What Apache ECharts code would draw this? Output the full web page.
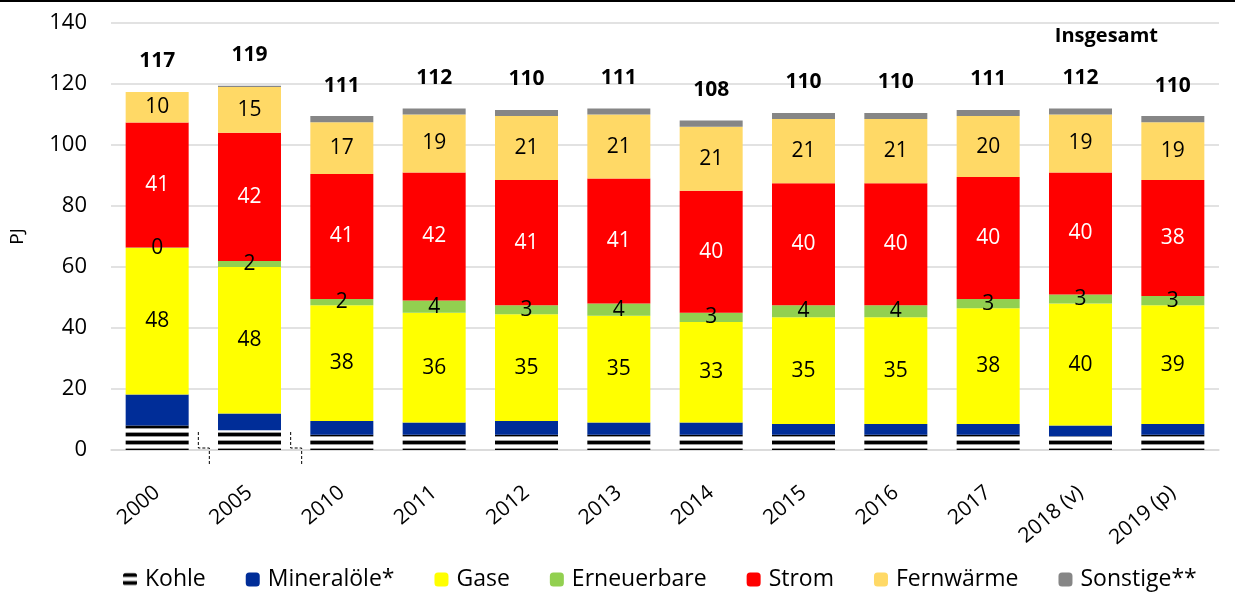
<!DOCTYPE html>
<html>
<head>
<meta charset="utf-8">
<script src="https://cdn.jsdelivr.net/npm/echarts@6/dist/echarts.min.js"></script>
<style>
  html, body { margin: 0; padding: 0; background: #fff; }
  #chart { width: 1235px; height: 595px; }
</style>
</head>
<body>
<div id="chart"></div>
<script>
// Endenergieverbrauch nach Energieträgern, PJ
const years = ['2000', '2005', '2010', '2011', '2012', '2013', '2014', '2015', '2016', '2017', '2018 (v)', '2019 (p)']
const kohle = [8, 6.5, 5, 5, 5, 5, 5, 5, 5, 5, 4.5, 5]
const mineraloele = [10.2, 5.5, 4.5, 4, 4.5, 4, 4, 3.5, 3.5, 3.5, 3.5, 3.5]
const gase = [48, 48, 38, 36, 35, 35, 33, 35, 35, 38, 40, 39]
const erneuerbare = [0.2, 2, 2, 4, 3, 4, 3, 4, 4, 3, 3, 3]
const strom = [41, 42, 41, 42, 41, 41, 40, 40, 40, 40, 40, 38]
const fernwaerme = [10, 15, 17, 19, 21, 21, 21, 21, 21, 20, 19, 19]
const sonstige = [0, 0.4, 2, 2, 2, 2, 2, 2, 2, 2, 2, 2]
const insgesamt = [117, 119, 111, 112, 110, 111, 108, 110, 110, 111, 112, 110]
const yTicks = [0, 20, 40, 60, 80, 100, 120, 140]

const font = '"Open Sans", "Noto Sans", sans-serif'

// horizontal black/white stripes for Kohle
function stripes () {
  const c = document.createElement('canvas')
  c.width = 8
  c.height = 8
  const ctx = c.getContext('2d')
  ctx.fillStyle = '#ffffff'
  ctx.fillRect(0, 0, 8, 8)
  ctx.fillStyle = '#000000'
  ctx.fillRect(0, 1, 8, 3)
  ctx.fillStyle = '#9a9a9a'
  ctx.fillRect(0, 0, 8, 1)
  ctx.fillRect(0, 4, 8, 1)
  return c
}

let chartDom = document.getElementById('chart')
let myChart = echarts.init(chartDom)

function seg (name, data, color, labelColor) {
  return {
    name: name,
    type: 'bar',
    stack: 'total',
    data: data,
    barWidth: 63,
    itemStyle: { color: color },
    label: labelColor ? {
      show: true,
      position: 'inside',
      color: labelColor,
      fontFamily: font,
      fontSize: 21,
      formatter: p => Math.round(p.value)
    } : { show: false }
  }
}

let option = {
  animation: false,
  backgroundColor: '#fff',
  textStyle: { fontFamily: font },
  grid: { left: 106, right: 16, top: 23, bottom: 145 },
  title: {
    text: 'Insgesamt',
    right: 72,
    top: 21,
    textStyle: { fontFamily: font, fontSize: 20, fontWeight: 'bold', color: '#000' }
  },
  legend: {
    bottom: -1,
    left: 118,
    itemWidth: 14,
    itemHeight: 14,
    itemGap: 40,
    textStyle: { fontFamily: font, fontSize: 23, color: '#000', padding: [0, 0, 0, 3] },
    data: ['Kohle', 'Mineralöle*', 'Gase', 'Erneuerbare', 'Strom', 'Fernwärme', 'Sonstige**']
  },
  xAxis: {
    type: 'category',
    data: years,
    axisTick: { show: false },
    axisLine: { lineStyle: { color: '#d9d9d9', width: 1.5 } },
    axisLabel: {
      rotate: 40,
      margin: 40,
      color: '#000',
      fontFamily: font,
      fontSize: 21
    }
  },
  yAxis: {
    type: 'value',
    min: yTicks[0],
    max: yTicks[yTicks.length - 1],
    interval: 20,
    name: 'PJ',
    nameLocation: 'middle',
    nameGap: 84,
    nameTextStyle: { fontFamily: font, fontSize: 19, color: '#000' },
    axisLabel: { color: '#000', fontFamily: font, fontSize: 22, margin: 24 },
    splitLine: { lineStyle: { color: '#d9d9d9', width: 1.5 } }
  },
  series: [
    seg('Kohle', kohle, { image: stripes(), repeat: 'repeat' }),
    seg('Mineralöle*', mineraloele, '#002d98'),
    seg('Gase', gase, '#ffff00', '#000'),
    seg('Erneuerbare', erneuerbare, '#92d050', '#000'),
    seg('Strom', strom, '#ff0000', '#fff'),
    seg('Fernwärme', fernwaerme, '#ffd966', '#000'),
    seg('Sonstige**', sonstige, '#868686'),
    {
      name: 'Insgesamt',
      type: 'bar',
      stack: 'total',
      data: insgesamt.map(() => 0),
      barWidth: 63,
      itemStyle: { color: 'transparent' },
      label: {
        show: true,
        position: 'top',
        distance: 20,
        color: '#000',
        fontFamily: font,
        fontSize: 21,
        fontWeight: 'bold',
        formatter: p => insgesamt[p.dataIndex]
      }
    }
  ]
}

option && myChart.setOption(option)

// axis break marks between 2000/2005 and 2005/2010
const y0 = myChart.convertToPixel({ yAxisIndex: 0 }, 0)
const marks = [0, 1].map(i => {
  const x = (myChart.convertToPixel({ xAxisIndex: 0 }, i) + myChart.convertToPixel({ xAxisIndex: 0 }, i + 1)) / 2
  return {
    type: 'polyline',
    shape: { points: [[x - 5, y0 - 18], [x - 5, y0 - 2], [x + 6, y0 - 2], [x + 6, y0 + 15]] },
    style: { stroke: '#000', lineWidth: 1, lineDash: [3, 2], fill: null }
  }
})
myChart.setOption({
  graphic: [
    { type: 'rect', shape: { x: 0, y: 0, width: 1235, height: 2 }, style: { fill: '#000' } }
  ].concat(marks)
})
</script>
</body>
</html>
